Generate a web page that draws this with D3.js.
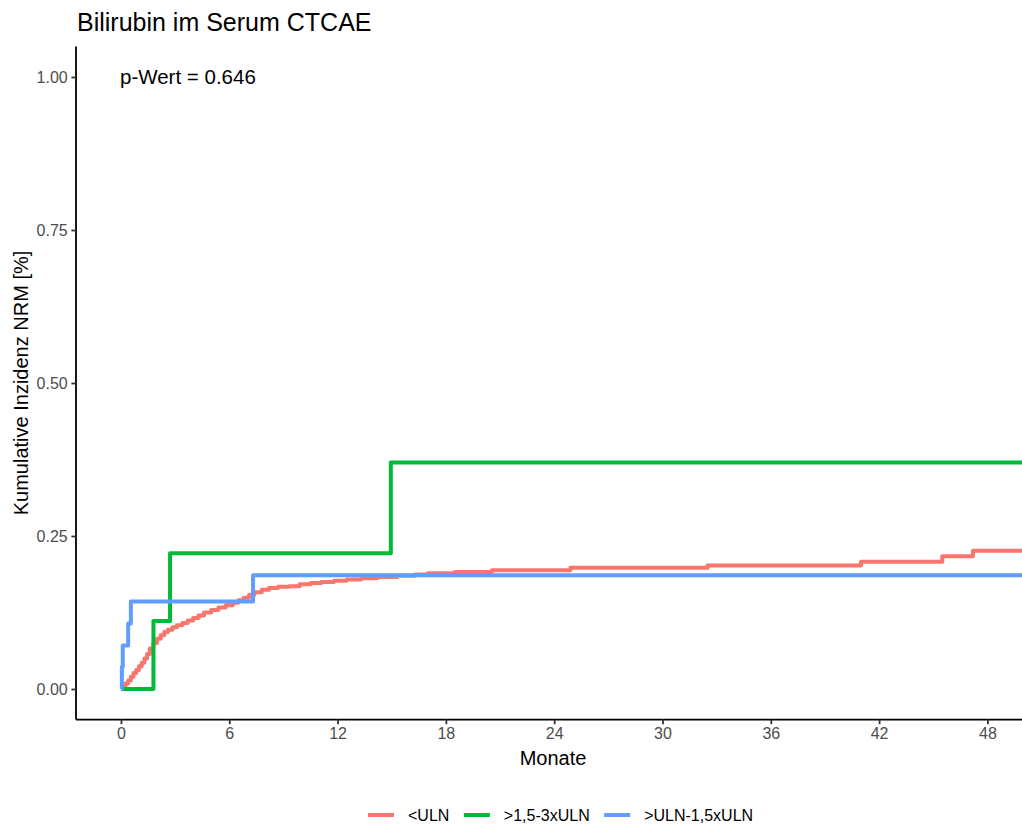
<!DOCTYPE html>
<html>
<head>
<meta charset="utf-8">
<script src="https://cdn.jsdelivr.net/npm/d3@7"></script>
<style>
  html, body { margin: 0; padding: 0; background: #fff; }
  svg { display: block; font-family: "Liberation Sans", Arial, sans-serif; }
</style>
</head>
<body>
<svg id="chart" width="1022" height="825"></svg>
<script>
// Cumulative incidence of non-relapse mortality by serum bilirubin group (CTCAE)
const groups = ["<ULN", ">1,5-3xULN", ">ULN-1,5xULN"];
const groupColors = ["#F8766D", "#00BA38", "#619CFF"];

// <ULN
const ulnLowMonths = [0, 0.1, 0.25, 0.4, 0.55, 0.7, 0.85, 1.0, 1.15, 1.3, 1.45, 1.6, 1.8, 2.0, 2.2, 2.4, 2.6, 2.85,
  3.1, 3.4, 3.7, 4.0, 4.3, 4.6, 5.0, 5.4, 5.8, 6.2, 6.5, 6.8, 7.1, 7.4, 7.8, 8.2, 8.7, 9.3, 9.9, 10.5, 11.1,
  11.8, 12.5, 13.3, 14.2, 15.3, 16.3, 17.0, 18.5, 20.55, 24.9, 32.5, 41.0, 45.5, 47.2, 51];
const ulnLowCif = [0, 0.004, 0.009, 0.014, 0.020, 0.026, 0.031, 0.037, 0.043, 0.050, 0.057, 0.066, 0.075, 0.082,
  0.088, 0.093, 0.097, 0.101, 0.104, 0.108, 0.112, 0.116, 0.120, 0.125, 0.129, 0.133, 0.137, 0.141, 0.145, 0.149,
  0.154, 0.158, 0.162, 0.165, 0.167, 0.168, 0.171, 0.173, 0.175, 0.177, 0.179, 0.181, 0.183, 0.185, 0.187, 0.189,
  0.191, 0.194, 0.198, 0.202, 0.208, 0.217, 0.226, 0.226];

// >1,5-3xULN
const ulnHighMonths = [0, 1.8, 2.72, 14.95, 51];
const ulnHighCif = [0, 0.111, 0.222, 0.370, 0.370];

// >ULN-1,5xULN
const ulnMidMonths = [0, 0.05, 0.1, 0.4, 0.55, 7.32, 51];
const ulnMidCif = [0, 0.036, 0.071, 0.107, 0.143, 0.186, 0.186];

const xTicks = [0, 6, 12, 18, 24, 30, 36, 42, 48];
const yTicks = [0, 0.25, 0.5, 0.75, 1.0];

const series = [
  { name: groups[0], color: groupColors[0], t: ulnLowMonths, v: ulnLowCif },
  { name: groups[1], color: groupColors[1], t: ulnHighMonths, v: ulnHighCif },
  { name: groups[2], color: groupColors[2], t: ulnMidMonths, v: ulnMidCif }
];

const svg = d3.select("#chart");
const panel = { left: 76, right: 1030, top: 46.4, bottom: 719.6 };

const x = d3.scaleLinear().domain([-2.49, 50.36]).range([panel.left, panel.right]);
const y = d3.scaleLinear().domain([-0.05, 1.05]).range([panel.bottom, panel.top]);

// Title
svg.append("text")
  .attr("x", 77).attr("y", 31)
  .attr("font-size", 25).attr("fill", "#000")
  .text("Bilirubin im Serum CTCAE");

// Clip region for curves
svg.append("defs").append("clipPath").attr("id", "panelClip")
  .append("rect")
  .attr("x", panel.left).attr("y", panel.top)
  .attr("width", panel.right - panel.left).attr("height", panel.bottom - panel.top);

// Curves
const line = d3.line()
  .x(d => x(d[0]))
  .y(d => y(d[1]))
  .curve(d3.curveStepAfter);

const curves = svg.append("g").attr("clip-path", "url(#panelClip)");
series.forEach(s => {
  const pts = s.t.map((t, i) => [t, s.v[i]]);
  curves.append("path")
    .datum(pts)
    .attr("d", line)
    .attr("fill", "none")
    .attr("stroke", s.color)
    .attr("stroke-width", 4)
    .attr("stroke-linejoin", "round");
});

// Axes
const xAxis = d3.axisBottom(x).tickValues(xTicks).tickSize(4.6).tickPadding(3.5).tickFormat(d3.format("d"));
const yAxis = d3.axisLeft(y).tickValues(yTicks).tickSize(4.6).tickPadding(3.7).tickFormat(d3.format(".2f"));

const gx = svg.append("g").attr("transform", `translate(0,${panel.bottom})`).call(xAxis);
const gy = svg.append("g").attr("transform", `translate(${panel.left},0)`).call(yAxis);

[gx, gy].forEach(g => {
  g.select(".domain").attr("stroke", "#000").attr("stroke-width", 1.8);
  g.selectAll(".tick line").attr("stroke", "#333").attr("stroke-width", 1.8);
  g.selectAll(".tick text").attr("fill", "#4D4D4D").attr("font-size", 16)
    .attr("font-family", "Liberation Sans, Arial, sans-serif");
});
// Axis lines run along the whole panel edge
gx.select(".domain").attr("d", `M${panel.left},0H${panel.right}`);
gy.select(".domain").attr("d", `M0,${panel.top}V${panel.bottom}`);

// Axis titles
svg.append("text")
  .attr("x", (panel.left + panel.right) / 2).attr("y", 765)
  .attr("text-anchor", "middle").attr("font-size", 20).attr("fill", "#000")
  .text("Monate");

svg.append("text")
  .attr("transform", `translate(28,${(panel.top + panel.bottom) / 2}) rotate(-90)`)
  .attr("text-anchor", "middle").attr("font-size", 20).attr("fill", "#000")
  .text("Kumulative Inzidenz NRM [%]");

// p-value annotation
svg.append("text")
  .attr("x", 120).attr("y", 83.5)
  .attr("font-size", 20.5).attr("fill", "#000")
  .text("p-Wert = 0.646");

// Legend
const legend = svg.append("g").attr("transform", "translate(368,815)");
let cursor = 0;
const keyW = 26, keyGap = 14, itemGap = 14.5;
series.forEach(s => {
  const item = legend.append("g").attr("transform", `translate(${cursor},0)`);
  item.append("line")
    .attr("x1", 0).attr("x2", keyW).attr("y1", 0).attr("y2", 0)
    .attr("stroke", s.color).attr("stroke-width", 4);
  const txt = item.append("text")
    .attr("x", keyW + keyGap).attr("y", 5.8)
    .attr("font-size", 16).attr("fill", "#000")
    .text(s.name);
  cursor += keyW + keyGap + txt.node().getComputedTextLength() + itemGap;
});
</script>
</body>
</html>
